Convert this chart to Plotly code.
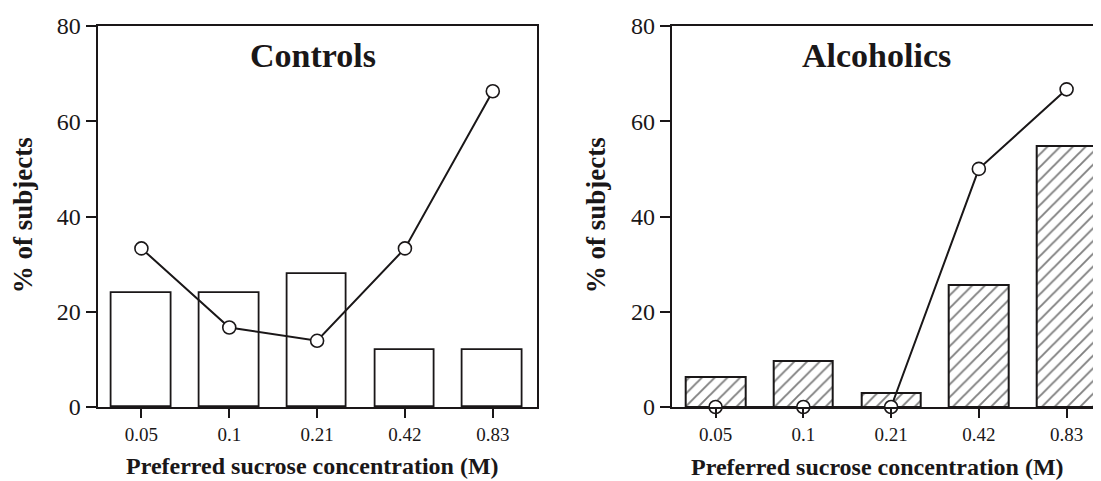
import plotly.graph_objects as go

categories = ["0.05", "0.1", "0.21", "0.42", "0.83"]
controls_bars = [24, 24, 28, 12, 12]
controls_line = [33.3, 16.7, 13.9, 33.3, 66.3]
alcoholics_bars = [6.4, 9.7, 3.0, 25.7, 54.7]
alcoholics_line = [0, 0, 0, 50, 66.7]
y_ticks = [0, 20, 40, 60, 80]

OFF = 8  # default body margin of the html page
W, H = 1101 - OFF, 481 - OFF
FONT = "Liberation Serif"
BLACK = "#1a1718"

fig = go.Figure()

fig.add_trace(go.Bar(x=categories, y=controls_bars, width=0.68,
                     marker=dict(color="white", line=dict(color=BLACK, width=1.8)),
                     xaxis="x", yaxis="y", showlegend=False))
fig.add_trace(go.Scatter(x=categories, y=controls_line, mode="lines+markers",
                         line=dict(color=BLACK, width=2),
                         marker=dict(symbol="circle", size=13, color="white",
                                     line=dict(color=BLACK, width=1.6)),
                         cliponaxis=False, xaxis="x", yaxis="y", showlegend=False))

fig.add_trace(go.Bar(x=categories, y=alcoholics_bars, width=0.68,
                     marker=dict(color="white", line=dict(color=BLACK, width=2),
                                 pattern=dict(shape="/", fgcolor="#000000", bgcolor="white",
                                              size=9, solidity=0.21, fillmode="overlay")),
                     xaxis="x2", yaxis="y2", showlegend=False))
fig.add_trace(go.Scatter(x=categories, y=alcoholics_line, mode="lines+markers",
                         line=dict(color=BLACK, width=2),
                         marker=dict(symbol="circle", size=13, color="white",
                                     line=dict(color=BLACK, width=1.6)),
                         cliponaxis=False, xaxis="x2", yaxis="y2", showlegend=False))

# target positions in screenshot pixels
top_px, bot_px = 25.5, 407
plot_h = bot_px - top_px

def py(ypx):
    return (bot_px - ypx) / plot_h

def px(xpx):
    return (xpx - OFF) / W

xcommon = dict(showline=True, linecolor=BLACK, linewidth=2, ticks="outside",
               ticklen=9, tickwidth=1.6, tickcolor=BLACK, showgrid=False, zeroline=False,
               tickfont=dict(family=FONT, size=19, color=BLACK), type="category")
ycommon = dict(showline=True, linecolor=BLACK, linewidth=2, ticks="outside",
               ticklen=10, tickwidth=1.6, tickcolor=BLACK, showgrid=False, zeroline=False,
               range=[0, 80], tickvals=y_ticks,
               tickfont=dict(family=FONT, size=24, color=BLACK))

fig.update_layout(
    width=W, height=H,
    margin=dict(l=0, r=0, t=top_px - OFF, b=481 - bot_px),
    paper_bgcolor="white", plot_bgcolor="white",
    bargap=0,
    xaxis=dict(domain=[px(97.5), px(536.7)], range=[-0.5, 4.5], mirror=True,
               anchor="y", **xcommon),
    yaxis=dict(domain=[0, 1], anchor="x", mirror=True, **ycommon),
    xaxis2=dict(domain=[px(671.7), 1.0], range=[-0.5, 4.392], mirror=True,
                anchor="y2", **xcommon),
    yaxis2=dict(domain=[0, 1], anchor="x2", mirror=False, **ycommon),
)

annos = [
    dict(text="<b>Controls</b>", x=px(313), y=py(55), size=34),
    dict(text="<b>Alcoholics</b>", x=px(876), y=py(55), size=34),
    dict(text="<b>Preferred sucrose concentration (M)</b>", x=px(312), y=py(466), size=24),
    dict(text="<b>Preferred sucrose concentration (M)</b>", x=px(877), y=py(467), size=24),
]
for a in annos:
    fig.add_annotation(text=a["text"], x=a["x"], y=a["y"], xref="paper", yref="paper",
                       xanchor="center", yanchor="middle", showarrow=False,
                       font=dict(family=FONT, size=a["size"], color=BLACK))
for xc in (23, 596):
    fig.add_annotation(text="<b>% of subjects</b>", x=px(xc), y=py(215), xref="paper",
                       yref="paper", xanchor="center", yanchor="middle", textangle=-90,
                       showarrow=False, font=dict(family=FONT, size=27, color=BLACK))

fig.write_html("out.html")
